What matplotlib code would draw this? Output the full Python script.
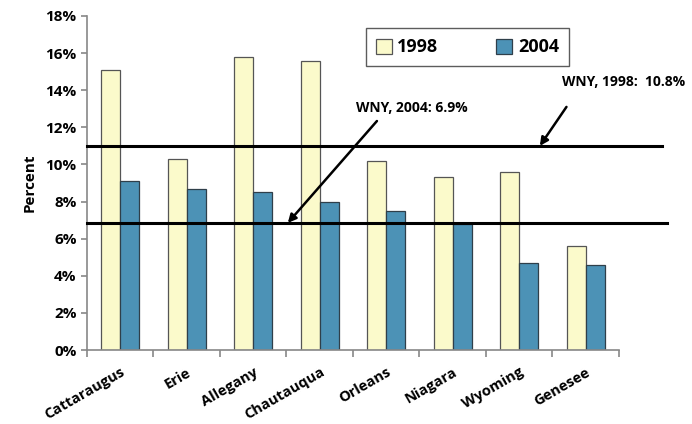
import matplotlib

matplotlib.use("Agg")
import matplotlib.pyplot as plt
import matplotlib.transforms as mtransforms
import numpy as np
from matplotlib.ticker import FuncFormatter, FixedLocator

counties = ["Cattaraugus", "Erie", "Allegany", "Chautauqua",
            "Orleans", "Niagara", "Wyoming", "Genesee"]
pct_1998 = [15.1, 10.3, 15.8, 15.6, 10.2, 9.3, 9.6, 5.6]
pct_2004 = [9.1, 8.7, 8.5, 8.0, 7.5, 6.8, 4.7, 4.6]
wny_1998_line = 11.0
wny_2004_line = 6.85

plt.rcParams["font.family"] = ["Open Sans", "DejaVu Sans"]

fig = plt.figure(figsize=(6.92, 4.24), dpi=100)
ax = fig.add_axes([0.1257, 0.1745, 0.7688, 0.7878])

x = np.arange(len(counties))
w = 0.285
ax.bar(x - w / 2, pct_1998, width=w, color="#FBFACB", edgecolor="#555555",
       lw=0.9, label="1998", zorder=2)
ax.bar(x + w / 2, pct_2004, width=w, color="#4C92B6", edgecolor="#2f3f4a",
       lw=0.9, label="2004", zorder=2)

# WNY reference lines run a bit past the plot area on the right
ax.axhline(wny_1998_line, xmin=0, xmax=1.08, color="black", lw=2.2,
           clip_on=False, zorder=3)
ax.axhline(wny_2004_line, xmin=0, xmax=1.09, color="black", lw=2.2,
           clip_on=False, zorder=3)

ax.set_xlim(-0.5, len(counties) - 0.5)
ax.set_ylim(0, 18)
ax.set_yticks(np.arange(0, 19, 2))
ax.yaxis.set_major_formatter(FuncFormatter(lambda v, _: f"{v:.0f}%"))
ax.set_xticks(x)
ax.set_xticklabels(counties, rotation=30, ha="right", rotation_mode="anchor",
                   fontweight="bold", fontsize=10.5)
shift = mtransforms.ScaledTranslation(-7 / 100, 0, fig.dpi_scale_trans)
for lab in ax.get_xticklabels():
    lab.set_transform(lab.get_transform() + shift)
ax.xaxis.set_minor_locator(FixedLocator(np.arange(-0.5, len(counties), 1)))
ax.tick_params(axis="x", which="major", length=0, pad=11)
ax.tick_params(axis="x", which="minor", length=5, color="#888888", width=1.2)
ax.tick_params(axis="y", length=4, color="#888888", width=1.2, labelsize=11)
for lab in ax.get_yticklabels():
    lab.set_fontweight("bold")

for side in ("top", "right"):
    ax.spines[side].set_visible(False)
for side in ("left", "bottom"):
    ax.spines[side].set_color("#888888")
    ax.spines[side].set_linewidth(1.2)

ax.set_ylabel("Percent", fontweight="bold", fontsize=11, labelpad=6)

leg = ax.legend(loc="upper left", bbox_to_anchor=(0.507, 0.99), ncol=2,
                frameon=True, fancybox=False, edgecolor="#333333",
                handlelength=0.9, handleheight=0.9, handletextpad=0.3,
                columnspacing=3.2, borderpad=0.55,
                prop={"weight": "bold", "size": 13})
leg.get_frame().set_linewidth(1.0)

# annotation arrows and labels
ax.annotate("", xy=(6.31, wny_1998_line), xytext=(6.71, 13.1),
            arrowprops=dict(arrowstyle="-|>", color="black", lw=1.8,
                            mutation_scale=12, shrinkA=0, shrinkB=0))
ax.text(7.57, 14.45, "WNY, 1998:  10.8%", fontsize=10, fontweight="bold",
        ha="center", va="center", clip_on=False)
ax.annotate("", xy=(2.52, wny_2004_line), xytext=(3.86, 12.34),
            arrowprops=dict(arrowstyle="-|>", color="black", lw=1.8,
                            mutation_scale=12, shrinkA=0, shrinkB=0))
ax.text(4.39, 13.04, "WNY, 2004: 6.9%", fontsize=10, fontweight="bold",
        ha="center", va="center")

fig.savefig("out.png", dpi=100)
